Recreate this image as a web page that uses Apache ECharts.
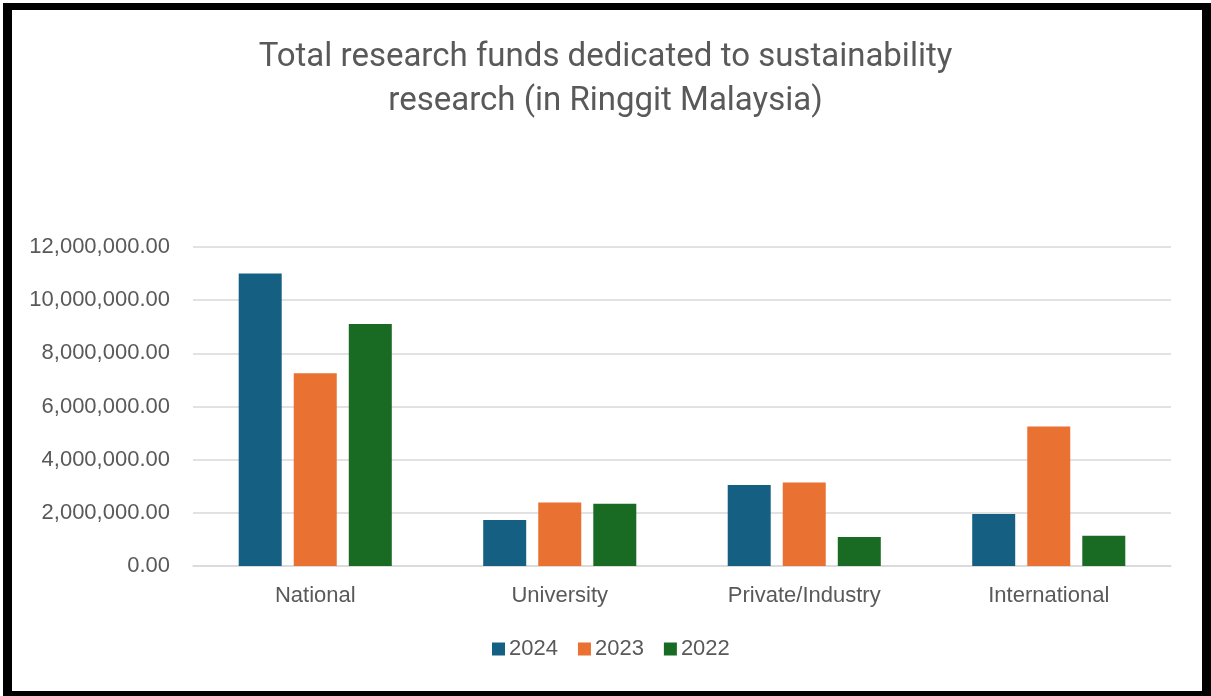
<!DOCTYPE html>
<html>
<head>
<meta charset="utf-8">
<script src="https://cdn.jsdelivr.net/npm/echarts@6/dist/echarts.min.js"></script>
<style>
  html, body { margin: 0; padding: 0; background: #fff; }
  #frame {
    position: absolute; left: 3px; top: 3px; width: 1190px; height: 681px;
    border-left: 9px solid #000; border-top: 7px solid #000;
    border-right: 9px solid #000; border-bottom: 5px solid #000;
  }
  #fundsChart { position: absolute; left: 0; top: 0; width: 1211px; height: 696px; }
</style>
</head>
<body>
<div id="frame"></div>
<div id="fundsChart"></div>
<script>
  // 数据
  const categories = ['National', 'University', 'Private/Industry', 'International'];
  const years = ['2024', '2023', '2022'];
  const funds2024 = [11000000, 1730000, 3050000, 1960000];
  const funds2023 = [7250000, 2390000, 3140000, 5250000];
  const funds2022 = [9100000, 2340000, 1090000, 1140000];
  const yTicks = [0, 2000000, 4000000, 6000000, 8000000, 10000000, 12000000];

  const labelColor = '#595959';
  const labelFont = '"Liberation Sans", Arial, sans-serif';

  function barSeries(name, data, color) {
    return {
      name: name,
      type: 'bar',
      data: data,
      barWidth: 43,
      barGap: '28%',
      itemStyle: { color: color }
    };
  }

  let myChart = echarts.init(document.getElementById('fundsChart'));
  myChart.setOption({
    backgroundColor: 'transparent',
    title: {
      text: 'Total research funds dedicated to sustainability\nresearch (in Ringgit Malaysia)',
      left: 'center',
      top: 31,
      textStyle: {
        fontFamily: 'Roboto, sans-serif',
        fontSize: 33,
        fontWeight: 'normal',
        lineHeight: 44,
        color: labelColor
      }
    },
    color: ['#156082', '#E97132', '#196B24'],
    legend: {
      data: years,
      bottom: 31,
      left: 487,
      icon: 'rect',
      itemWidth: 13,
      itemHeight: 13,
      itemGap: 20,
      textStyle: {
        fontFamily: labelFont,
        fontSize: 22,
        color: labelColor,
        padding: [0, 0, 0, -1]
      }
    },
    grid: {
      left: 193,
      right: 40,
      top: 247,
      bottom: 130
    },
    xAxis: {
      type: 'category',
      data: categories,
      axisTick: { show: false },
      axisLine: { lineStyle: { color: '#d9d9d9', width: 1.5 } },
      axisLabel: {
        margin: 19,
        fontFamily: labelFont,
        fontSize: 22,
        color: labelColor
      }
    },
    yAxis: {
      type: 'value',
      min: yTicks[0],
      max: yTicks[yTicks.length - 1],
      interval: yTicks[1] - yTicks[0],
      axisLine: { show: false },
      axisTick: { show: false },
      splitLine: { lineStyle: { color: '#d9d9d9', width: 1.5 } },
      axisLabel: {
        margin: 23,
        fontFamily: labelFont,
        fontSize: 22,
        color: labelColor,
        formatter: v => v.toLocaleString('en-US', { minimumFractionDigits: 2, maximumFractionDigits: 2 })
      }
    },
    series: [
      barSeries(years[0], funds2024, '#156082'),
      barSeries(years[1], funds2023, '#E97132'),
      barSeries(years[2], funds2022, '#196B24')
    ]
  });

  window.addEventListener('resize', () => {
    myChart.resize();
  });
</script>
</body>
</html>
